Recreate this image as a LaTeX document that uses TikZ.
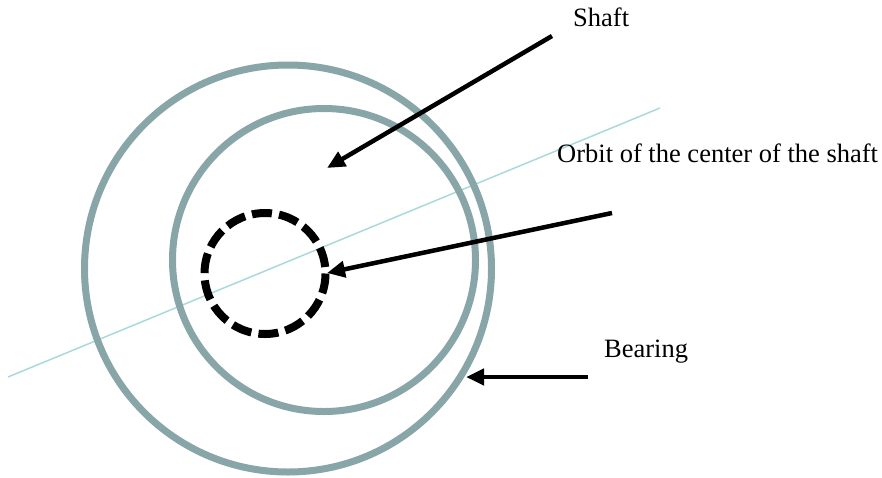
\documentclass[tikz,border=0pt]{standalone}
\usepackage{fontspec}
\setmainfont{Liberation Serif}
\usetikzlibrary{arrows.meta}
\definecolor{ringc}{HTML}{88A5A8}
\definecolor{axisc}{HTML}{A9D9DC}
\tikzset{
  ring/.style={draw=ringc, line width=7pt},
  orbitring/.style={draw=black, line width=8pt, dash pattern=on 20pt off 7.2pt},
  pointer/.style={draw=black, line width=4.5pt, -{Triangle[length=18pt,width=16pt]}},
  lbl/.style={anchor=base west, inner sep=0pt, font=\fontsize{26.5}{30}\selectfont},
}
\begin{document}
\begin{tikzpicture}[x=1pt,y=-1pt]
\useasboundingbox (0,0) rectangle (882,477);
% axis line
\coordinate (axA) at (8,377);
\coordinate (axB) at (660,108);
\draw[axisc, line width=1.5pt] (axA) -- (axB);
% rings
\draw[ring] (288,268.5) circle (203.5);
\draw[ring] (324,260) circle (151.5);
\draw[orbitring] (265,273.5) circle (60.5);
% labels
\node[lbl] (shaft) at (573,26) {Shaft};
\node[lbl] (orbit) at (557,162) {Orbit of the center of the shaft};
\node[lbl] (bearing) at (604,357) {Bearing};
% arrows
\coordinate (s0) at (552,36);
\coordinate (s1) at (327,168);
\coordinate (o0) at (612,213);
\coordinate (o1) at (327,273);
\coordinate (b0) at (588,377);
\coordinate (b1) at (466,377);
\draw[pointer] (s0) -- (s1);
\draw[pointer] (o0) -- (o1);
\draw[pointer] (b0) -- (b1);
\end{tikzpicture}
\end{document}
